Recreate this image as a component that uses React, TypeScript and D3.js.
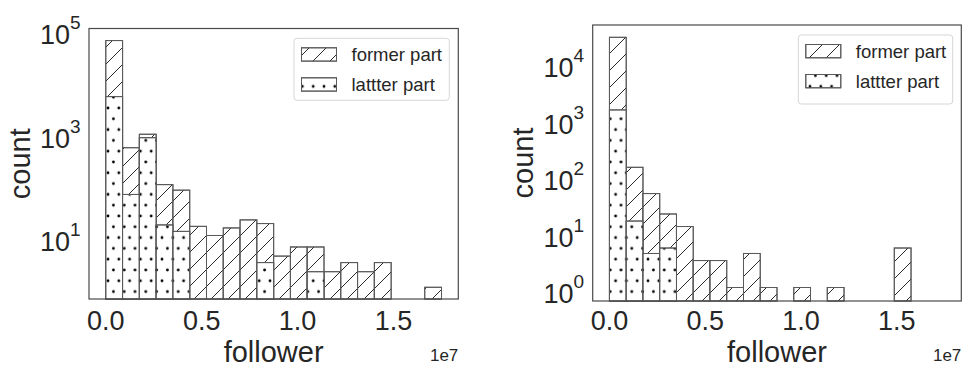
import React from 'react';
import * as d3 from 'd3';

// histogram bins (shared by both panels)
const binCount = 20;
const binMin = 0;
const binMax = 1.75e7;

// left panel counts per bin
const leftFormer = [58000, 495, 900, 96, 75, 15, 10, 14, 20, 17, 4, 6, 6, 2, 3, 2, 3, 0, 0, 1];
const leftLatter = [4800, 62, 773, 16, 12, 0, 0, 0, 0, 3, 0, 0, 2, 0, 0, 0, 0, 0, 0, 0];
// right panel counts per bin
const rightFormer = [26800, 134, 46, 20, 12, 3, 3, 1, 4, 1, 0, 1, 0, 1, 0, 0, 0, 5, 0, 0];
const rightLatter = [1390, 15, 4, 5, 0, 0, 0, 0, 0, 0, 0, 0, 0, 0, 0, 0, 0, 0, 0, 0];

const xTicks = [0, 0.5e7, 1.0e7, 1.5e7];
const leftYTickExps = [1, 3, 5];
const rightYTickExps = [0, 1, 2, 3, 4];
const legendLabels = ['former part', 'lattter part'];
const xLabel = 'follower';
const yLabel = 'count';
const offsetLabel = '1e7';

const TEXT = '#262626';
const FONT = '"Liberation Sans", Arial, sans-serif';

type PanelProps = {
  x0: number; x1: number; y0: number; y1: number;
  yDomain: [number, number];
  former: number[]; latter: number[];
  yTickExps: number[];
  legend: { x: number; y: number; w: number; h: number };
  yLabelX: number;
};

function Panel(p: PanelProps) {
  const pad = (binMax - binMin) * 0.05;
  const x = d3.scaleLinear().domain([binMin - pad, binMax + pad]).range([p.x0, p.x1]);
  const y = d3.scaleLog().domain(p.yDomain).range([p.y1, p.y0]);
  const edges = d3.range(binCount + 1).map(i => binMin + (binMax - binMin) * i / binCount);
  const bar = (v: number, i: number, fill: string, key: string) =>
    v > 0 ? (
      <rect key={key} x={x(edges[i])} y={y(v)} width={x(edges[i + 1]) - x(edges[i])}
        height={p.y1 - y(v)} fill={fill} stroke="#5a5a5a" strokeWidth={1} />
    ) : null;
  const L = p.legend;
  const patchW = 35, patchH = 13.3;
  return (
    <g fontFamily={FONT} fill={TEXT}>
      <rect x={p.x0} y={p.y0} width={p.x1 - p.x0} height={p.y1 - p.y0} fill="white" />
      {p.former.map((v, i) => (
        <g key={'f' + i}>
          {bar(v, i, 'white', 'fw' + i)}
          {bar(v, i, 'url(#hatchSlash)', 'fh' + i)}
        </g>
      ))}
      {p.latter.map((v, i) => (
        <g key={'l' + i}>
          {bar(v, i, 'white', 'lw' + i)}
          {bar(v, i, 'url(#hatchDot)', 'lh' + i)}
        </g>
      ))}
      <rect x={p.x0} y={p.y0} width={p.x1 - p.x0} height={p.y1 - p.y0} fill="none" stroke="#4a4a4a" strokeWidth={1.2} />
      {xTicks.map(t => (
        <text key={t} x={x(t)} y={330} textAnchor="middle" fontSize={27}>{(t / 1e7).toFixed(1)}</text>
      ))}
      {p.yTickExps.map(e => (
        <text key={e} x={p.x0 - 8.5} y={y(Math.pow(10, e)) + 16} textAnchor="end" fontSize={27}>
          10<tspan fontSize={19} dy={-15}>{e}</tspan>
        </text>
      ))}
      <text x={(p.x0 + p.x1) / 2} y={361.5} textAnchor="middle" fontSize={29}>{xLabel}</text>
      <text x={p.x1} y={361} textAnchor="end" fontSize={17}>{offsetLabel}</text>
      <text transform={`translate(${p.yLabelX},${(p.y0 + p.y1) / 2}) rotate(-90)`} textAnchor="middle" fontSize={29}>{yLabel}</text>
      <rect x={L.x} y={L.y} width={L.w} height={L.h} rx={3} fill="white" stroke="#d6d6d6" strokeWidth={1} />
      {legendLabels.map((lab, k) => {
        const py = L.y + 9.5 + k * 30;
        const px = L.x + 7.5;
        return (
          <g key={lab}>
            <rect x={px} y={py} width={patchW} height={patchH} fill="white" stroke="#5a5a5a" />
            <rect x={px} y={py} width={patchW} height={patchH} fill={k === 0 ? 'url(#hatchSlash)' : 'url(#hatchDot)'} stroke="#5a5a5a" />
            <text x={px + 50} y={py + patchH} fontSize={18.5}>{lab}</text>
          </g>
        );
      })}
    </g>
  );
}

export default function App() {
  const S = 17; // slash spacing
  const D = 10.8; // dot spacing
  const R = 1.4;
  return (
    <svg width={962} height={370} style={{ position: 'absolute', left: 0, top: 0, background: 'white' }}>
      <defs>
        <pattern id="hatchSlash" patternUnits="userSpaceOnUse" width={S} height={S}>
          <path d={`M0,${S} L${S},0 M${-S / 2},${S / 2} L${S / 2},${-S / 2} M${S / 2},${S * 1.5} L${S * 1.5},${S / 2}`}
            stroke="#111" strokeWidth={0.9} fill="none" />
        </pattern>
        <pattern id="hatchDot" patternUnits="userSpaceOnUse" width={D} height={2 * D}>
          <circle cx={0} cy={0} r={R} fill="#000" />
          <circle cx={D} cy={0} r={R} fill="#000" />
          <circle cx={0} cy={2 * D} r={R} fill="#000" />
          <circle cx={D} cy={2 * D} r={R} fill="#000" />
          <circle cx={D / 2} cy={D} r={R} fill="#000" />
        </pattern>
      </defs>
      <rect x={0} y={0} width={962} height={370} fill="white" />
      <Panel x0={89} x1={458.3} y0={28.5} y1={299}
        yDomain={[Math.pow(10, -0.226), Math.pow(10, 4.996)]}
        former={leftFormer} latter={leftLatter} yTickExps={leftYTickExps}
        legend={{ x: 294, y: 38.3, w: 155.3, h: 62 }} yLabelX={30} />
      <Panel x0={592.7} x1={961.3} y0={25} y1={301}
        yDomain={[Math.pow(10, -0.239), Math.pow(10, 4.646)]}
        former={rightFormer} latter={rightLatter} yTickExps={rightYTickExps}
        legend={{ x: 798.3, y: 35, w: 154.4, h: 69 }} yLabelX={533} />
    </svg>
  );
}
